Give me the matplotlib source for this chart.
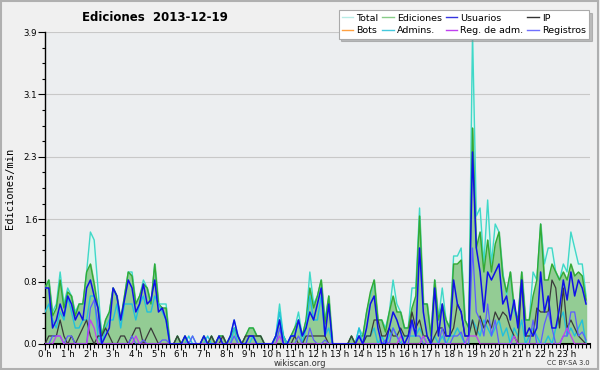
import numpy as np
import matplotlib
matplotlib.use('Agg')
import matplotlib.pyplot as plt
from matplotlib.patches import Rectangle
from matplotlib.ticker import MultipleLocator, FixedLocator

# ten-minute slots, edits per minute
total = [
    0.7, 0.8, 0.4, 0.5, 0.9, 0.5,   0.7, 0.6, 0.4, 0.5, 0.5, 0.9,
    1.4, 1.3, 0.7, 0.1, 0.3, 0.4,   0.7, 0.6, 0.3, 0.6, 0.9, 0.9,
    0.5, 0.6, 0.8, 0.7, 0.5, 1.0,   0.5, 0.5, 0.5, 0.0, 0.0, 0.1,
    0.0, 0.1, 0.0, 0.1, 0.0, 0.0,   0.1, 0.0, 0.1, 0.0, 0.1, 0.1,
    0.0, 0.1, 0.3, 0.1, 0.0, 0.1,   0.2, 0.2, 0.1, 0.1, 0.0, 0.0,
    0.0, 0.1, 0.5, 0.1, 0.0, 0.1,   0.2, 0.4, 0.1, 0.3, 0.9, 0.5,
    0.6, 0.8, 0.3, 0.6, 0.0, 0.0,   0.0, 0.0, 0.0, 0.1, 0.0, 0.2,
    0.1, 0.4, 0.6, 0.8, 0.3, 0.3,   0.2, 0.4, 0.8, 0.5, 0.4, 0.2,
    0.2, 0.7, 0.7, 1.7, 0.5, 0.5,   0.1, 0.8, 0.3, 0.7, 0.3, 0.2,
    1.1, 1.1, 1.2, 0.3, 0.2, 3.9,   1.6, 1.7, 1.0, 1.8, 1.0, 1.5,
    1.4, 0.9, 0.6, 0.9, 0.4, 0.3,   0.9, 0.3, 0.3, 0.9, 0.8, 1.5,
    1.0, 1.2, 1.2, 0.9, 0.8, 1.0,   0.9, 1.4, 1.2, 1.0, 1.0, 0.6,
]
ediciones = [
    0.7, 0.8, 0.35, 0.45, 0.8, 0.45,   0.65, 0.6, 0.35, 0.5, 0.5, 0.9,
    1.0, 0.75, 0.45, 0.1, 0.3, 0.4,    0.7, 0.6, 0.3, 0.6, 0.9, 0.85,
    0.5, 0.6, 0.75, 0.7, 0.5, 1.0,     0.5, 0.45, 0.45, 0.0, 0.0, 0.1,
    0.0, 0.1, 0.0, 0.0, 0.0, 0.0,      0.1, 0.0, 0.1, 0.0, 0.1, 0.1,
    0.0, 0.1, 0.2, 0.1, 0.0, 0.1,      0.2, 0.2, 0.1, 0.1, 0.0, 0.0,
    0.0, 0.1, 0.3, 0.1, 0.0, 0.1,      0.2, 0.3, 0.1, 0.3, 0.7, 0.45,
    0.6, 0.8, 0.25, 0.6, 0.0, 0.0,     0.0, 0.0, 0.0, 0.1, 0.0, 0.1,
    0.1, 0.4, 0.65, 0.8, 0.3, 0.3,     0.15, 0.4, 0.6, 0.4, 0.4, 0.2,
    0.2, 0.45, 0.6, 1.6, 0.5, 0.5,     0.1, 0.8, 0.3, 0.5, 0.3, 0.2,
    1.0, 1.0, 1.05, 0.3, 0.2, 2.7,     1.2, 1.4, 0.9, 1.3, 0.9, 1.25,
    1.4, 0.85, 0.65, 0.9, 0.45, 0.3,   0.9, 0.3, 0.3, 0.6, 0.8, 1.5,
    0.8, 0.8, 1.0, 0.9, 0.8, 0.9,      0.8, 1.0, 0.85, 0.9, 0.85, 0.55,
]
usuarios = [
    0.7, 0.7, 0.2, 0.3, 0.5, 0.35,   0.6, 0.5, 0.3, 0.4, 0.3, 0.7,
    0.8, 0.6, 0.45, 0.0, 0.1, 0.2,   0.7, 0.6, 0.3, 0.55, 0.8, 0.7,
    0.4, 0.5, 0.75, 0.5, 0.55, 0.8,  0.4, 0.45, 0.3, 0.0, 0.0, 0.0,
    0.0, 0.1, 0.0, 0.0, 0.0, 0.0,    0.1, 0.0, 0.0, 0.0, 0.1, 0.0,
    0.0, 0.1, 0.3, 0.1, 0.0, 0.0,    0.1, 0.1, 0.0, 0.0, 0.0, 0.0,
    0.0, 0.1, 0.3, 0.0, 0.0, 0.1,    0.1, 0.3, 0.1, 0.2, 0.4, 0.3,
    0.5, 0.7, 0.1, 0.5, 0.0, 0.0,    0.0, 0.0, 0.0, 0.0, 0.0, 0.1,
    0.0, 0.2, 0.5, 0.6, 0.2, 0.0,    0.0, 0.2, 0.4, 0.3, 0.15, 0.0,
    0.1, 0.3, 0.1, 1.2, 0.4, 0.1,    0.0, 0.7, 0.1, 0.5, 0.1, 0.1,
    0.8, 0.5, 0.4, 0.1, 0.1, 2.4,    1.2, 0.9, 0.4, 0.9, 0.8, 0.9,
    1.0, 0.5, 0.6, 0.3, 0.55, 0.2,   0.8, 0.1, 0.2, 0.1, 0.2, 0.9,
    0.4, 0.6, 0.2, 0.2, 0.45, 0.8,   0.55, 0.9, 0.6, 0.8, 0.7, 0.5,
]
ip = [
    0.0, 0.1, 0.1, 0.1, 0.3, 0.1,   0.0, 0.1, 0.0, 0.1, 0.2, 0.3,
    0.1, 0.0, 0.1, 0.1, 0.2, 0.1,   0.0, 0.0, 0.1, 0.1, 0.0, 0.1,
    0.2, 0.2, 0.0, 0.1, 0.2, 0.1,   0.0, 0.0, 0.0, 0.0, 0.0, 0.1,
    0.0, 0.0, 0.0, 0.0, 0.0, 0.0,   0.0, 0.0, 0.1, 0.0, 0.0, 0.1,
    0.0, 0.0, 0.0, 0.0, 0.0, 0.1,   0.1, 0.1, 0.1, 0.1, 0.0, 0.0,
    0.0, 0.0, 0.0, 0.0, 0.0, 0.0,   0.1, 0.0, 0.0, 0.1, 0.1, 0.1,
    0.1, 0.1, 0.1, 0.0, 0.0, 0.0,   0.0, 0.0, 0.0, 0.1, 0.0, 0.0,
    0.0, 0.1, 0.1, 0.3, 0.3, 0.1,   0.1, 0.2, 0.1, 0.1, 0.2, 0.1,
    0.1, 0.4, 0.2, 0.3, 0.1, 0.1,   0.0, 0.1, 0.2, 0.2, 0.1, 0.1,
    0.2, 0.5, 0.4, 0.1, 0.1, 0.3,   0.1, 0.35, 0.2, 0.3, 0.2, 0.4,
    0.3, 0.4, 0.35, 0.2, 0.1, 0.0,  0.8, 0.1, 0.1, 0.1, 0.45, 0.4,
    0.4, 0.4, 0.8, 0.7, 0.2, 0.7,   0.2, 0.3, 0.2, 0.1, 0.05, 0.0,
]
bots = [0.0] * 144
admins = [
    0.4, 0.5, 0.3, 0.2, 0.4, 0.3,   0.6, 0.4, 0.2, 0.2, 0.3, 0.3,
    0.6, 0.6, 0.1, 0.0, 0.2, 0.3,   0.3, 0.5, 0.2, 0.5, 0.5, 0.5,
    0.3, 0.5, 0.6, 0.4, 0.4, 0.6,   0.5, 0.4, 0.3, 0.0, 0.0, 0.0,
    0.0, 0.0, 0.1, 0.0, 0.0, 0.0,   0.0, 0.1, 0.0, 0.0, 0.0, 0.0,
    0.0, 0.0, 0.2, 0.0, 0.0, 0.0,   0.0, 0.1, 0.0, 0.0, 0.0, 0.0,
    0.0, 0.1, 0.4, 0.1, 0.0, 0.1,   0.1, 0.3, 0.0, 0.2, 0.6, 0.3,
    0.3, 0.6, 0.1, 0.2, 0.0, 0.0,   0.0, 0.0, 0.0, 0.0, 0.0, 0.2,
    0.0, 0.1, 0.1, 0.2, 0.0, 0.1,   0.0, 0.1, 0.2, 0.1, 0.0, 0.1,
    0.1, 0.1, 0.1, 0.2, 0.1, 0.0,   0.0, 0.1, 0.0, 0.1, 0.0, 0.1,
    0.1, 0.2, 0.1, 0.0, 0.1, 0.3,   0.2, 0.1, 0.3, 0.2, 0.1, 0.2,
    0.3, 0.1, 0.2, 0.0, 0.2, 0.1,   0.3, 0.0, 0.1, 0.2, 0.1, 0.0,
    0.0, 0.1, 0.0, 0.2, 0.3, 0.4,   0.1, 0.2, 0.1, 0.2, 0.3, 0.0,
]
reg_adm = [
    0.0, 0.0, 0.0, 0.1, 0.1, 0.0,   0.0, 0.0, 0.0, 0.0, 0.0, 0.0,
    0.3, 0.2, 0.0, 0.0, 0.0, 0.0,   0.0, 0.0, 0.0, 0.0, 0.0, 0.0,
    0.1, 0.0, 0.0, 0.0, 0.0, 0.0,   0.0, 0.0, 0.0, 0.0, 0.0, 0.0,
    0.0, 0.0, 0.0, 0.0, 0.0, 0.0,   0.0, 0.0, 0.0, 0.0, 0.0, 0.0,
    0.0, 0.0, 0.0, 0.0, 0.0, 0.0,   0.0, 0.0, 0.0, 0.0, 0.0, 0.0,
    0.0, 0.0, 0.1, 0.0, 0.0, 0.0,   0.0, 0.0, 0.0, 0.0, 0.0, 0.0,
    0.0, 0.0, 0.0, 0.0, 0.0, 0.0,   0.0, 0.0, 0.0, 0.0, 0.0, 0.0,
    0.0, 0.0, 0.0, 0.0, 0.0, 0.0,   0.0, 0.0, 0.0, 0.0, 0.1, 0.0,
    0.0, 0.0, 0.0, 0.0, 0.1, 0.0,   0.0, 0.0, 0.0, 0.0, 0.0, 0.0,
    0.0, 0.0, 0.0, 0.0, 0.1, 0.1,   0.1, 0.0, 0.0, 0.0, 0.0, 0.0,
    0.0, 0.0, 0.0, 0.0, 0.1, 0.0,   0.0, 0.0, 0.0, 0.0, 0.0, 0.0,
    0.0, 0.0, 0.0, 0.0, 0.0, 0.1,   0.2, 0.1, 0.0, 0.0, 0.0, 0.0,
]
registros = [
    0.0, 0.0, 0.1, 0.1, 0.1, 0.0,   0.1, 0.1, 0.0, 0.0, 0.0, 0.0,
    0.45, 0.55, 0.25, 0.0, 0.0, 0.0, 0.0, 0.0, 0.0, 0.0, 0.0, 0.1,
    0.0, 0.0, 0.05, 0.0, 0.0, 0.0,  0.0, 0.05, 0.05, 0.0, 0.0, 0.0,
    0.0, 0.0, 0.0, 0.1, 0.0, 0.0,   0.0, 0.0, 0.0, 0.0, 0.0, 0.0,
    0.0, 0.0, 0.1, 0.0, 0.0, 0.0,   0.0, 0.0, 0.0, 0.0, 0.0, 0.0,
    0.0, 0.0, 0.2, 0.0, 0.0, 0.0,   0.0, 0.1, 0.0, 0.0, 0.2, 0.05,
    0.0, 0.0, 0.05, 0.0, 0.0, 0.0,  0.0, 0.0, 0.0, 0.0, 0.0, 0.1,
    0.0, 0.0, 0.0, 0.0, 0.0, 0.0,   0.05, 0.0, 0.2, 0.1, 0.0, 0.0,
    0.0, 0.25, 0.1, 0.1, 0.0, 0.0,  0.0, 0.0, 0.0, 0.2, 0.0, 0.0,
    0.1, 0.1, 0.15, 0.0, 0.0, 1.2,  0.4, 0.3, 0.1, 0.5, 0.1, 0.3,
    0.0, 0.0, 0.0, 0.0, 0.0, 0.0,   0.0, 0.0, 0.0, 0.3, 0.0, 0.0,
    0.25, 0.4, 0.2, 0.0, 0.0, 0.1,  0.1, 0.4, 0.4, 0.1, 0.15, 0.05,
]

hour_labels = ['%d h' % h for h in range(24)]
x = np.arange(len(total)) / 6.0

fig = plt.figure(figsize=(6, 3.7), dpi=100, facecolor='#f0f0f0')
fig.patches.append(Rectangle((0.002, 0.003), 0.995, 0.993, transform=fig.transFigure,
                             fill=False, edgecolor='#b0b0b0', linewidth=1.5))
ax = fig.add_axes([0.075, 0.0703, 0.908, 0.8432])
ax.set_facecolor('#eceef0')

# filled areas first
ax.fill_between(x, total, color='#dff5f0', zorder=1)
ax.fill_between(x, ediciones, color='#8fca8f', alpha=0.95, zorder=2)

ax.plot(x, total, color='#40d8c8', lw=1.0, zorder=3)
ax.plot(x, ediciones, color='#33aa33', lw=1.0, zorder=3)
ax.plot(x, admins, color='#22c0dc', lw=1.0, zorder=4)
ax.plot(x, ip, color='#3a3a3a', lw=0.9, zorder=4)
ax.plot(x, registros, color='#5c5cff', lw=0.9, zorder=4)
ax.plot(x, reg_adm, color='#c040f0', lw=0.9, zorder=4)
ax.plot(x, usuarios, color='#1010e8', lw=1.1, zorder=5)
ax.plot(x, bots, color='#ffa040', lw=0.9, zorder=0)

ax.set_xlim(0, 24)
ax.set_ylim(0, 3.9)
yt = np.linspace(0, 3.9, 6)
ax.yaxis.set_major_locator(FixedLocator(yt))
ax.set_yticklabels(['%.1f' % v for v in yt])
ax.yaxis.set_minor_locator(MultipleLocator(3.9 / 20))
ax.set_xticks(range(24))
ax.set_xticklabels(hour_labels)
ax.xaxis.set_minor_locator(MultipleLocator(1 / 6))
ax.tick_params(axis='both', which='both', direction='out', labelsize=6.2, pad=0.5,
               color='black', width=0.8)
ax.tick_params(axis='x', which='major', length=4)
ax.tick_params(axis='x', which='minor', length=3)
ax.tick_params(axis='y', which='major', length=5)
ax.tick_params(axis='y', which='minor', length=2)
ax.grid(axis='y', which='major', color='#c8c8c8', lw=0.8)
for s in ['top', 'right']:
    ax.spines[s].set_visible(False)
ax.spines['left'].set_linewidth(1)
ax.spines['bottom'].set_linewidth(1.5)

ax.set_ylabel('Ediciones/min', fontsize=7.5, family='DejaVu Sans Mono', labelpad=6)

fig.text(0.258, 0.952, 'Ediciones  2013-12-19', ha='center', va='center',
         fontsize=8.5, fontweight='bold')
fig.text(0.5, 0.018, 'wikiscan.org', ha='center', va='center', fontsize=6, color='#333333')
fig.text(0.983, 0.018, 'CC BY-SA 3.0', ha='right', va='center', fontsize=4.8, color='#333333')

# legend, ordered column by column
handles = [
    plt.Line2D([], [], color='#b8ece6', lw=1), plt.Line2D([], [], color='#ffa040', lw=1),
    plt.Line2D([], [], color='#88cc88', lw=1), plt.Line2D([], [], color='#44c8dc', lw=1),
    plt.Line2D([], [], color='#3535e0', lw=1), plt.Line2D([], [], color='#c040f0', lw=1),
    plt.Line2D([], [], color='#333333', lw=1), plt.Line2D([], [], color='#7070ff', lw=1),
]
labels = ['Total', 'Bots', 'Ediciones', 'Admins.', 'Usuarios', 'Reg. de adm.', 'IP', 'Registros']
leg = fig.legend(handles, labels, ncol=4, loc='upper right', bbox_to_anchor=(0.99, 0.985),
                 fontsize=6.8, frameon=True, fancybox=False, shadow={'color': '#888888'},
                 handlelength=1.2, handletextpad=0.35, columnspacing=0.4, labelspacing=0.4,
                 borderpad=0.35, edgecolor='#aaaaaa')
leg.get_frame().set_linewidth(0.8)

fig.savefig('out.png', dpi=100, facecolor=fig.get_facecolor())
